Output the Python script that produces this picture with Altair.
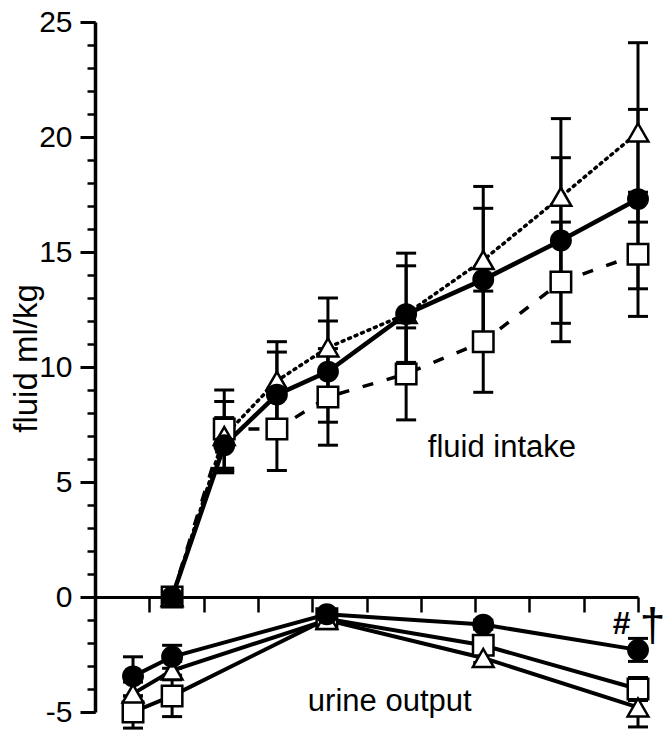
import altair as alt
import pandas as pd

# ---- data ----
intake_time = [1.42, 2.38, 3.35, 4.29, 5.73, 7.15, 8.58, 10.0]
intake_circle = [0.0, 6.6, 8.8, 9.8, 12.3, 13.8, 15.5, 17.3]
intake_circle_err = [0.0, 1.2, 1.85, 2.2, 2.1, 3.1, 3.6, 3.9]
intake_triangle = [0.0, 7.0, 9.4, 10.85, 12.3, 14.65, 17.4, 20.2]
intake_triangle_err = [0.0, 1.5, 1.7, 2.15, 2.65, 3.2, 3.4, 3.9]
intake_square = [0.0, 7.3, 7.3, 8.7, 9.7, 11.1, 13.7, 14.9]
intake_square_err = [0.0, 1.7, 1.8, 2.1, 2.0, 2.2, 2.6, 2.7]

urine_time = [0.70, 1.42, 4.27, 7.15, 10.0]
urine_circle = [-3.45, -2.6, -0.75, -1.2, -2.3]
urine_circle_err = [0.85, 0.5, 0.2, 0.2, 0.5]
urine_triangle = [-4.2, -3.2, -1.0, -2.65, -4.8]
urine_triangle_err = [0.5, 0.4, 0.2, 0.2, 0.85]
urine_square = [-5.0, -4.3, -0.95, -2.1, -4.0]
urine_square_err = [0.7, 0.9, 0.2, 0.2, 0.5]

y_major = [-5, 0, 5, 10, 15, 20, 25]
y_minor = list(range(-5, 26))
x_ticks = list(range(1, 11))

FONT = "Liberation Sans"


def frame(times, vals, errs, series, part):
    return pd.DataFrame({
        "t": times, "v": vals,
        "lo": [v - e for v, e in zip(vals, errs)],
        "hi": [v + e for v, e in zip(vals, errs)],
        "series": series, "part": part,
    })


ic = frame(intake_time, intake_circle, intake_circle_err, "circle", "intake")
it = frame(intake_time, intake_triangle, intake_triangle_err, "triangle", "intake")
isq = frame(intake_time, intake_square, intake_square_err, "square", "intake")
uc = frame(urine_time, urine_circle, urine_circle_err, "circle", "urine")
ut = frame(urine_time, urine_triangle, urine_triangle_err, "triangle", "urine")
usq = frame(urine_time, urine_square, urine_square_err, "square", "urine")
alld = pd.concat([ic, it, isq, uc, ut, usq], ignore_index=True)

xs = alt.Scale(domain=[0, 10], nice=False, zero=False)
ys = alt.Scale(domain=[-5, 25], nice=False, zero=False)

X = alt.X("t:Q", scale=xs, axis=None)
Y = alt.Y("v:Q", scale=ys, axis=None)

# axes layers (invisible marks)
axis_major = alt.Chart(ic).mark_point(opacity=0).encode(
    x=alt.X("t:Q", scale=xs, axis=alt.Axis(
        values=x_ticks, tickSize=15, tickWidth=2.5, tickColor="black",
        labels=False, domainColor="black", domainWidth=3, offset=-115,
        title=None, grid=False)),
    y=alt.Y("v:Q", scale=ys, axis=alt.Axis(
        values=y_major, tickSize=15, tickWidth=3, tickColor="black",
        domainColor="black", domainWidth=3.5, grid=False,
        labelExpr="'' + datum.value",
        labelFont=FONT, labelFontSize=30, labelColor="black", labelPadding=8,
        labelOverlap=False, labelFlush=False,
        title="fluid ml/kg", titleFont=FONT, titleFontSize=33,
        titleFontWeight="normal", titleColor="black",
        titleAngle=-90, titleX=-69, titleY=336,
        titleAlign="center", titleBaseline="middle")),
)
axis_minor = alt.Chart(ic).mark_point(opacity=0).encode(
    x=X,
    y=alt.Y("v:Q", scale=ys, axis=alt.Axis(
        values=y_minor, tickSize=8, tickWidth=2.5, tickColor="black",
        labels=False, domain=False, grid=False, title=None, orient="left")),
)

# lines
line_ic = alt.Chart(ic).mark_line(color="black", strokeWidth=4.5).encode(x=X, y=Y)
line_it = alt.Chart(it).mark_line(color="black", strokeWidth=3.5,
                                  strokeDash=[2, 5], strokeCap="round").encode(x=X, y=Y)
line_isq = alt.Chart(isq).mark_line(color="black", strokeWidth=3.5,
                                    strokeDash=[11, 14]).encode(x=X, y=Y)
urine_all = pd.concat([uc, ut, usq], ignore_index=True)
line_u = alt.Chart(urine_all).mark_line(color="black", strokeWidth=4).encode(
    x=X, y=Y, detail="series:N")

# error bars
err_v = alt.Chart(alld).mark_rule(color="black", strokeWidth=3).encode(
    x=X, y=alt.Y("lo:Q", scale=ys, axis=None), y2="hi:Q")
cap_hi = alt.Chart(alld).mark_rule(color="black", strokeWidth=3,
                                   xOffset=-10, x2Offset=10).encode(
    x=X, x2="t:Q", y=alt.Y("hi:Q", scale=ys, axis=None))
cap_lo = alt.Chart(alld).mark_rule(color="black", strokeWidth=3,
                                   xOffset=-10, x2Offset=10).encode(
    x=X, x2="t:Q", y=alt.Y("lo:Q", scale=ys, axis=None))

# markers
sq_data = pd.concat([isq, usq], ignore_index=True)
tr_data = pd.concat([it, ut], ignore_index=True)
ci_data = pd.concat([ic, uc], ignore_index=True)
m_sq = alt.Chart(sq_data).mark_point(shape="square", filled=True, fill="white",
                                     stroke="black", strokeWidth=2.5, size=420,
                                     opacity=1).encode(x=X, y=Y)
m_tr = alt.Chart(tr_data).mark_point(shape="triangle-up", filled=True, fill="white",
                                     stroke="black", strokeWidth=2.5, size=430,
                                     opacity=1).encode(x=X, y=Y)
m_ci = alt.Chart(ci_data).mark_point(shape="circle", filled=True, color="black",
                                     size=480, opacity=1).encode(x=X, y=Y)

# text annotations
lbl_intake = pd.DataFrame({"t": [6.13], "v": [6.09], "txt": ["fluid intake"]})
lbl_urine = pd.DataFrame({"t": [3.92], "v": [-4.96], "txt": ["urine output"]})
lbl_hash = pd.DataFrame({"t": [9.69], "v": [-1.17], "txt": ["#"]})
lbl_dag = pd.DataFrame({"t": [10.27], "v": [-1.3], "txt": ["†"]})

t_intake = alt.Chart(lbl_intake).mark_text(font=FONT, fontSize=31, align="left",
                                            baseline="alphabetic", color="black").encode(
    x=X, y=Y, text="txt:N")
t_urine = alt.Chart(lbl_urine).mark_text(font=FONT, fontSize=31, align="left",
                                          baseline="alphabetic", color="black").encode(
    x=X, y=Y, text="txt:N")
t_hash = alt.Chart(lbl_hash).mark_text(font=FONT, fontSize=32, fontWeight="bold",
                                        fontStyle="italic", align="center",
                                        baseline="middle", color="black").encode(
    x=X, y=Y, text="txt:N")
t_dag = alt.Chart(lbl_dag).mark_text(font=FONT, fontSize=46, align="center",
                                      baseline="middle", color="black").encode(
    x=X, y=Y, text="txt:N")

chart = alt.layer(
    axis_major, axis_minor,
    line_isq, line_it, line_ic, line_u,
    err_v, cap_hi, cap_lo,
    m_sq, m_tr, m_ci,
    t_intake, t_urine, t_hash, t_dag,
).resolve_axis(x="independent", y="independent").properties(
    width=543, height=690,
    autosize=alt.AutoSizeParams(type="none"),
    padding={"left": 95, "top": 22, "right": 27, "bottom": 22},
    background="white",
).configure_view(stroke=None)

chart.save("out.html", embed_options={"renderer": "svg", "actions": False})
